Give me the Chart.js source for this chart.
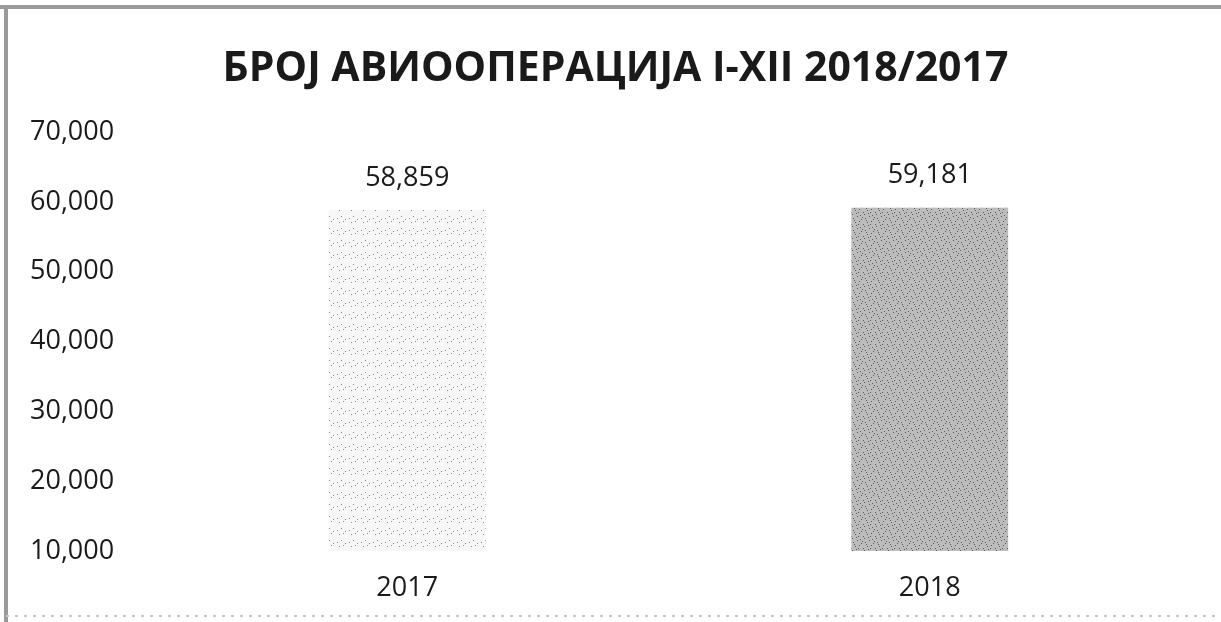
<!DOCTYPE html>
<html>
<head>
<meta charset="utf-8">
<script src="https://cdn.jsdelivr.net/npm/chart.js@4/dist/chart.umd.min.js"></script>
<style>
  html, body { margin: 0; padding: 0; background: #fff; }
  #wrap { width: 1221px; height: 622px; position: relative; }
</style>
</head>
<body>
<div id="wrap"><canvas id="c" width="1221" height="622"></canvas></div>
<script>
const chartTitle = 'БРОЈ АВИООПЕРАЦИЈА I-XII 2018/2017';
const categories = ['2017', '2018'];
const values = [58859, 59181];
const yMin = 10000;
const yMax = 70000;
const yStep = 10000;

const fontFamily = '"Open Sans", "DejaVu Sans", sans-serif';

// stipple textures for the bars (fixed dot layout in a small tile)
const dotTile = [[1,2],[5,0],[9,3],[3,6],[7,5],[11,8],[0,10],[4,9],[8,11],[10,1],[6,8],[2,4]];
function stipple(bg, dot, density) {
  const t = document.createElement('canvas');
  t.width = 12; t.height = 12;
  const c = t.getContext('2d');
  c.fillStyle = bg; c.fillRect(0, 0, 12, 12);
  c.fillStyle = dot;
  dotTile.slice(0, density).forEach(([x, y]) => c.fillRect(x, y, 1, 1));
  return c.createPattern(t, 'repeat');
}
const barColors = [
  stipple('#f7f7f7', '#8c8c8c', 5),
  stipple('#bcbcbc', '#5a5a5a', 12)
];

const frame = {
  id: 'frame',
  beforeDraw(chart) {
    const ctx = chart.ctx;
    ctx.save();
    ctx.fillStyle = '#fff';
    ctx.fillRect(0, 0, chart.width, chart.height);
    ctx.strokeStyle = '#9a9a9a';
    ctx.lineWidth = 4;
    ctx.beginPath();
    ctx.moveTo(0, 7); ctx.lineTo(chart.width, 7);
    ctx.moveTo(6, 7); ctx.lineTo(6, chart.height);
    ctx.stroke();
    ctx.strokeStyle = '#c8c8c8';
    ctx.lineWidth = 2;
    ctx.setLineDash([3, 6]);
    ctx.beginPath();
    ctx.moveTo(6, 616); ctx.lineTo(chart.width, 616);
    ctx.stroke();
    ctx.restore();
  }
};

const valueLabels = {
  id: 'valueLabels',
  afterDatasetsDraw(chart) {
    const ctx = chart.ctx;
    const meta = chart.getDatasetMeta(0);
    ctx.save();
    ctx.font = '27px ' + fontFamily;
    ctx.fillStyle = '#1a1a1a';
    ctx.textAlign = 'center';
    ctx.textBaseline = 'middle';
    meta.data.forEach((bar, i) => {
      ctx.fillText(values[i].toLocaleString('en-US'), bar.x, bar.y - 32);
    });
    ctx.restore();
  }
};

new Chart(document.getElementById('c'), {
  type: 'bar',
  data: {
    labels: categories,
    datasets: [{
      data: values,
      backgroundColor: barColors,
      borderWidth: 0,
      barPercentage: 0.6,
      categoryPercentage: 0.5
    }]
  },
  options: {
    responsive: false,
    animation: false,
    layout: { padding: { left: 40, right: 30, top: 8, bottom: 8 } },
    plugins: {
      legend: { display: false },
      tooltip: { enabled: false },
      title: {
        display: true,
        text: chartTitle,
        color: '#1a1a1a',
        font: { family: fontFamily, size: 41, weight: 'bold' },
        padding: { top: 37, bottom: 38 }
      }
    },
    scales: {
      x: {
        grid: { display: false, drawTicks: false },
        border: { display: false },
        afterFit(scale) { scale.height = 63; },
        ticks: { color: '#1a1a1a', font: { family: fontFamily, size: 27 }, padding: 21 }
      },
      y: {
        min: yMin,
        max: yMax,
        grid: { display: false, drawTicks: false },
        border: { display: false },
        afterFit(scale) { scale.width = 106; },
        ticks: {
          stepSize: yStep,
          mirror: true,
          crossAlign: 'near',
          padding: -116,
          color: '#1a1a1a',
          font: { family: fontFamily, size: 27 },
          callback: v => v.toLocaleString('en-US')
        }
      }
    }
  },
  plugins: [frame, valueLabels]
});
</script>
</body>
</html>
